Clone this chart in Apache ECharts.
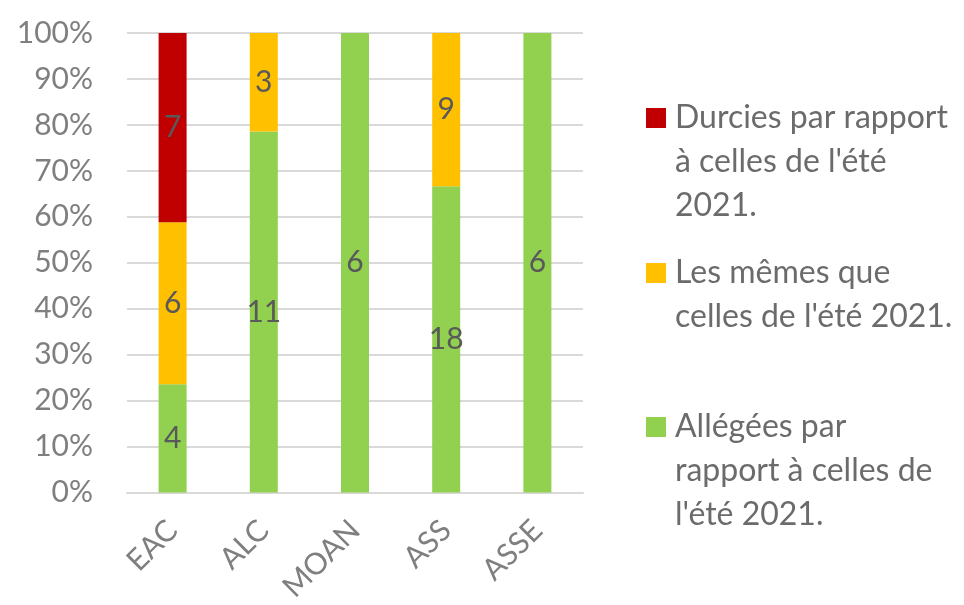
<!DOCTYPE html>
<html>
<head>
<meta charset="utf-8">
<script src="https://cdn.jsdelivr.net/npm/echarts@6/dist/echarts.min.js"></script>
<style>
html,body{margin:0;padding:0;background:#fff;}
#chart{width:964px;height:605px;}
</style>
</head>
<body>
<div id="chart"></div>
<script>
const categories = ['EAC', 'ALC', 'MOAN', 'ASS', 'ASSE'];
const durcies = [7, 0, 0, 0, 0];
const memes = [6, 3, 0, 9, 0];
const allegees = [4, 11, 6, 18, 6];
const yTicks = ['0%', '10%', '20%', '30%', '40%', '50%', '60%', '70%', '80%', '90%', '100%'];

const seriesNames = [
  'Durcies par rapport\nà celles de l\'été\n2021.',
  'Les mêmes que\ncelles de l\'été 2021.',
  'Allégées par\nrapport à celles de\nl\'été 2021.'
];

const totals = categories.map((c, i) => durcies[i] + memes[i] + allegees[i]);
const pct = arr => arr.map((v, i) => v / totals[i] * 100);

const FONT = 'Lato';
const LH = 44;

function mkSeries(name, counts, color) {
  return {
    name: name,
    type: 'bar',
    stack: 'total',
    barWidth: 28,
    data: pct(counts),
    itemStyle: { color: color },
    label: {
      show: true,
      position: 'inside',
      color: '#595959',
      fontFamily: FONT,
      fontSize: 30,
      formatter: p => counts[p.dataIndex] ? String(counts[p.dataIndex]) : ''
    }
  };
}

// icon: a 20px square next to the first text line; invisible points stretch the box to the text height
function mkLegend(name, lines, firstLineCenterY) {
  const h = lines * LH;
  const sq0 = LH / 2 - 10;
  const path = 'path://M0,0L0.01,0M0,' + h + 'L0.01,' + h +
    'M0,' + sq0 + 'L20,' + sq0 + 'L20,' + (sq0 + 20) + 'L0,' + (sq0 + 20) + 'Z';
  return {
    orient: 'vertical',
    left: 646,
    top: firstLineCenterY - LH / 2,
    padding: 0,
    itemWidth: 20,
    itemHeight: h,
    itemGap: 0,
    icon: path,
    data: [name],
    selectedMode: false,
    textStyle: {
      fontFamily: FONT,
      fontSize: 32,
      color: '#6b6b6b',
      lineHeight: LH,
      padding: [0, 0, 0, 4]
    }
  };
}

const chart = echarts.init(document.getElementById('chart'));
chart.setOption({
  animation: false,
  backgroundColor: '#fff',
  grid: { left: 127, right: 381, top: 33, bottom: 112, containLabel: false },
  legend: [
    mkLegend(seriesNames[0], 3, 118),
    mkLegend(seriesNames[1], 2, 273),
    mkLegend(seriesNames[2], 3, 427)
  ],
  xAxis: {
    type: 'category',
    data: categories,
    axisLine: { show: true, lineStyle: { color: '#d9d9d9', width: 2 } },
    axisTick: { show: false },
    axisLabel: {
      rotate: 45,
      interval: 0,
      margin: 33,
      fontFamily: FONT,
      fontSize: 30,
      color: '#7f7f7f'
    }
  },
  yAxis: {
    type: 'value',
    min: 0,
    max: 100,
    interval: 10,
    axisLine: { show: false },
    axisTick: { show: false },
    splitLine: { lineStyle: { color: '#d9d9d9', width: 2 } },
    axisLabel: {
      margin: 34,
      fontFamily: FONT,
      fontSize: 30,
      color: '#7f7f7f',
      formatter: v => yTicks[Math.round(v / 10)]
    }
  },
  series: [
    mkSeries(seriesNames[2], allegees, '#92D050'),
    mkSeries(seriesNames[1], memes, '#FFC000'),
    mkSeries(seriesNames[0], durcies, '#C00000')
  ]
});
</script>
</body>
</html>
